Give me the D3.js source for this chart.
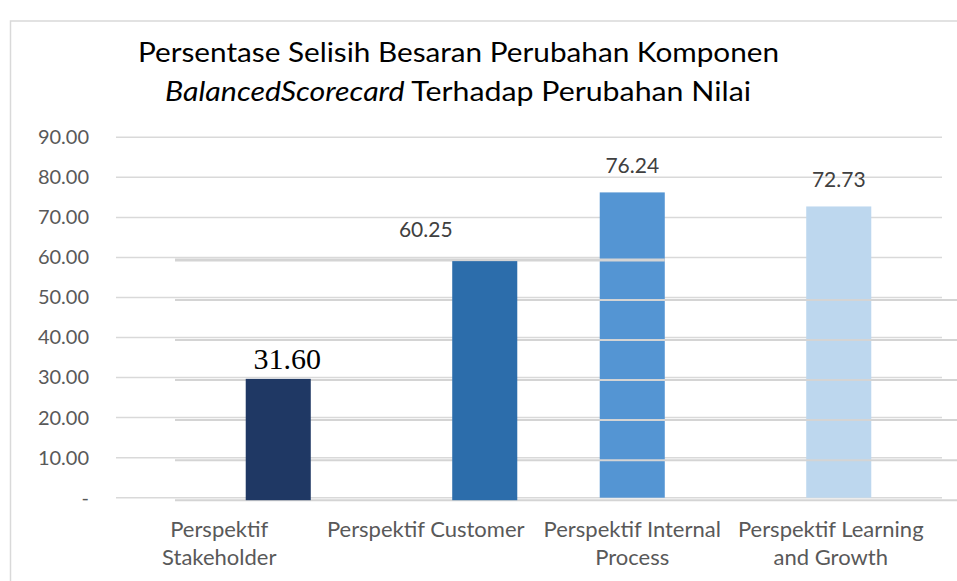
<!DOCTYPE html>
<html>
<head>
<meta charset="utf-8">
<script src="https://cdn.jsdelivr.net/npm/d3@7"></script>
<style>
  body { margin: 0; background: #fff; }
  svg { display: block; }
</style>
</head>
<body>
<div id="chart"></div>
<script>
// chart data
var categories = ["Perspektif\nStakeholder", "Perspektif Customer",
    "Perspektif Internal\nProcess", "Perspektif Learning\nand Growth"];
var barHeights = [30.3, 59.7, 76.24, 72.73];      // bar tops as drawn
var dataLabels = ["31.60", "60.25", "76.24", "72.73"]; // labels as printed
var labelValues = [31.60, 60.25, 76.24, 72.73];
var yTicks = [0, 10, 20, 30, 40, 50, 60, 70, 80, 90];
var barColors = ["#1f3864", "#2c6dab", "#5495d3", "#bdd7ee"];

var W = 957, H = 581;
var plot = {left: 116, right: 942, top: 137.3, bottom: 497.7};

var svg = d3.select("#chart").append("svg")
    .attr("width", W)
    .attr("height", H);

// chart frame
svg.append("rect")
    .attr("x", 10.5).attr("y", 21)
    .attr("width", 1000).attr("height", 1000)
    .attr("fill", "none")
    .attr("stroke", "#d9d9d9")
    .attr("stroke-width", 1.5);

var x = d3.scaleBand()
    .domain(categories)
    .range([plot.left, plot.right])
    .paddingInner(0.685)
    .paddingOuter(0.3425);

var y = d3.scaleLinear()
    .domain([0, 90])
    .range([plot.bottom, plot.top]);

// title, squeezed a little like the original
svg.append("text")
    .attr("x", 138).attr("y", 62.3)
    .attr("textLength", 641)
    .attr("lengthAdjust", "spacingAndGlyphs")
    .style("font-family", "Lato")
    .style("font-size", "27px")
    .attr("fill", "#000")
    .text("Persentase Selisih Besaran Perubahan Komponen");
var t2 = svg.append("text")
    .attr("x", 165).attr("y", 101)
    .attr("textLength", 586)
    .attr("lengthAdjust", "spacingAndGlyphs")
    .style("font-family", "Lato")
    .style("font-size", "27px")
    .attr("fill", "#000");
t2.append("tspan").style("font-style", "italic").text("BalancedScorecard");
t2.append("tspan").text(" Terhadap Perubahan Nilai");

// gridlines
svg.append("g")
    .selectAll("line")
    .data(yTicks)
    .enter()
    .append("line")
    .attr("x1", plot.left).attr("x2", plot.right)
    .attr("y1", function (d) { return y(d); })
    .attr("y2", function (d) { return y(d); })
    .attr("stroke", "#d9d9d9")
    .attr("stroke-width", 1.5);

// y axis labels
var yAxis = d3.axisLeft(y)
    .tickValues(yTicks)
    .tickSize(0)
    .tickPadding(27)
    .tickFormat(function (d) { return d === 0 ? "-" : d.toFixed(2); });

var gy = svg.append("g")
    .attr("transform", "translate(" + plot.left + ",0)")
    .call(yAxis);
gy.select(".domain").remove();
gy.selectAll("text")
    .style("font-family", "Lato")
    .style("font-size", "20px")
    .attr("fill", "#595959");

// x axis labels
var xl = svg.append("g").selectAll("text")
    .data(categories)
    .enter()
    .append("text")
    .attr("text-anchor", "middle")
    .style("font-family", "Lato")
    .style("font-size", "22px")
    .attr("fill", "#595959");
xl.each(function (d, k) {
    var t = d3.select(this);
    var cx = x(d) + x.bandwidth() / 2 - (k === 3 ? 8 : 0);
    d.split("\n").forEach(function (line, i) {
        t.append("tspan")
            .attr("x", cx)
            .attr("y", 536.7 + i * 28.5)
            .text(line);
    });
});

var idx = d3.range(categories.length);
var front = idx.filter(function (i) { return i < 2; });
var back = idx.filter(function (i) { return i >= 2; });

// bars behind the shifted layer
svg.append("g").selectAll("rect")
    .data(back)
    .enter()
    .append("rect")
    .attr("x", function (i) { return x(categories[i]); })
    .attr("y", function (i) { return y(barHeights[i]); })
    .attr("width", x.bandwidth())
    .attr("height", function (i) { return y(0) - y(barHeights[i]); })
    .attr("fill", function (i) { return barColors[i]; });

// value labels (Excel style)
svg.append("g").selectAll("text")
    .data(idx.filter(function (i) { return i > 0; }))
    .enter()
    .append("text")
    .attr("x", function (i) { return x(categories[i]) + x.bandwidth() / 2; })
    .attr("y", function (i) { return y(labelValues[i]) - 19; })
    .attr("text-anchor", "middle")
    .style("font-family", "Lato")
    .style("font-size", "21px")
    .attr("fill", "#404040")
    .text(function (i) { return dataLabels[i]; });

// shifted layer: first two bars with their own gridlines
var shiftX = 59, shiftY = 2.5;
var layer = svg.append("g")
    .attr("transform", "translate(" + shiftX + "," + shiftY + ")");

var cut = x(categories[2]) + x.bandwidth() - shiftX;
layer.append("g").selectAll("line")
    .data(yTicks.filter(function (d) { return d <= 60; }))
    .enter()
    .append("line")
    .attr("x1", plot.left)
    .attr("x2", function (d) { return d === 60 ? cut : W; })
    .attr("y1", function (d) { return y(d); })
    .attr("y2", function (d) { return y(d); })
    .attr("stroke", "#d4d4d4")
    .attr("stroke-width", function (d) { return d === 60 ? 3 : 2; });

layer.append("g").selectAll("rect")
    .data(front)
    .enter()
    .append("rect")
    .attr("x", function (i) { return x(categories[i]); })
    .attr("y", function (i) { return y(barHeights[i]); })
    .attr("width", x.bandwidth())
    .attr("height", function (i) { return y(0) - y(barHeights[i]); })
    .attr("fill", function (i) { return barColors[i]; });

layer.append("text")
    .attr("x", x(categories[0]) + x.bandwidth() / 2 + 9)
    .attr("y", y(barHeights[0]) - 10)
    .attr("text-anchor", "middle")
    .style("font-family", "Liberation Serif")
    .style("font-size", "30px")
    .attr("fill", "#000")
    .text(dataLabels[0]);
</script>
</body>
</html>
